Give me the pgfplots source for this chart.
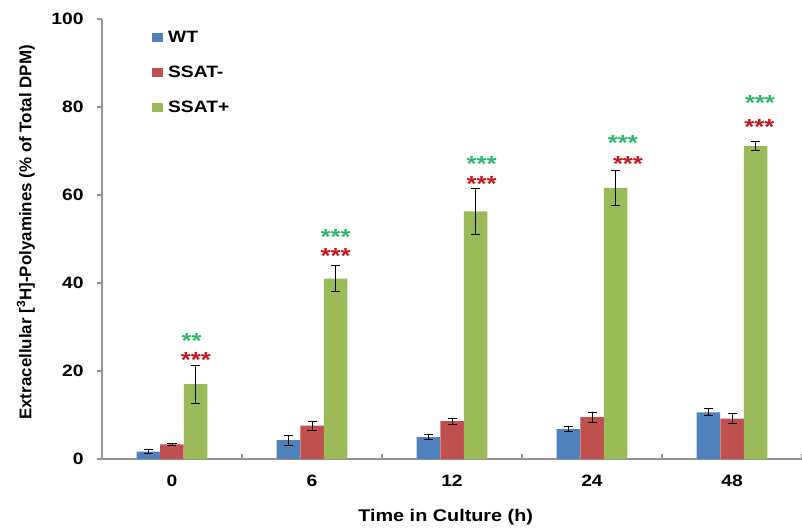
\documentclass[border=0pt]{standalone}
\usepackage{fontspec}
\setmainfont{Liberation Sans}[FakeStretch=1.17]
\newfontfamily\ylabfont{Liberation Sans}
\usepackage{pgfplots}
\pgfplotsset{compat=1.18}
\definecolor{wtblue}{HTML}{4F81BD}
\definecolor{ssred}{HTML}{C0504D}
\definecolor{ssgreen}{HTML}{9BBB59}
\definecolor{stargreen}{HTML}{2DB96B}
\definecolor{starred}{HTML}{C8161D}
\begin{document}
\begin{tikzpicture}
\begin{axis}[
  scale only axis, width=700bp, height=440bp,
  xmin=-0.5, xmax=4.5, ymin=0, ymax=100,
  axis x line*=bottom, axis y line*=left,
  x axis line style={draw=gray!85, line width=2.5bp},
  y axis line style={draw=gray!85, line width=1.3bp},
  xtick={-0.5,0.5,...,4.5}, x tick label as interval,
  xticklabels={0,6,12,24,48},
  ytick={0,20,...,100},
  tick align=outside, major tick length=5bp,
  xtick style={draw=gray!85, line width=1.5bp, yshift=5bp},
  ytick style={draw=gray!85, line width=1.2bp},
  /pgf/number format/assume math mode=true,
  tick label style={font=\bfseries\fontsize{16.5}{16.5}\selectfont},
  xticklabel style={yshift=-8bp},
  yticklabel style={xshift=-10bp},
  xlabel={Time in Culture (h)},
  ylabel={Extracellular [\textsuperscript{3}H]-Polyamines (\% of Total DPM)},
  every axis x label/.style={at={(axis description cs:0.491,-0.133)}, anchor=center,
    font=\bfseries\fontsize{17}{17}\selectfont},
  every axis y label/.style={at={(axis description cs:-0.1086,0.515)}, rotate=90, anchor=center,
    font=\ylabfont\bfseries\fontsize{17}{17}\selectfont},
  legend style={at={(axis description cs:0.0714,0.977)}, anchor=north west, draw=none, fill=none,
    font=\bfseries\fontsize{16.5}{18}\selectfont, row sep=18bp, inner sep=0pt},
  legend cell align=left,
  error bars/y dir=both, error bars/y explicit,
  error bars/error bar style={black, line width=0.8bp},
  error bars/error mark options={rotate=90, mark size=4.5bp, line width=0.8bp, black},
]
\addplot[ybar, bar width=23.5bp, bar shift=0bp, fill=wtblue, draw=none,
  legend image code/.code={\fill[wtblue] (0bp,-4.25bp) rectangle (11bp,4.25bp); \path (14bp,0bp);}]
  table[x=x, y=y, y error=e] {
x y e
-0.1679 1.7 0.5
0.8321 4.3 1.1
1.8321 5.0 0.5
2.8321 6.8 0.5
3.8321 10.6 0.8
};
\addlegendentry{WT}
\addplot[ybar, bar width=23.5bp, bar shift=0bp, fill=ssred, draw=none,
  legend image code/.code={\fill[ssred] (0bp,-4.25bp) rectangle (11bp,4.25bp); \path (14bp,0bp);}]
  table[x=x, y=y, y error=e] {
x y e
0 3.3 0.3
1 7.6 1.0
2 8.6 0.7
3 9.5 1.1
4 9.2 1.1
};
\addlegendentry{SSAT-}
\addplot[ybar, bar width=23.5bp, bar shift=0bp, fill=ssgreen, draw=none,
  legend image code/.code={\fill[ssgreen] (0bp,-4.25bp) rectangle (11bp,4.25bp); \path (14bp,0bp);}]
  table[x=x, y=y, y error=e] {
x y e
0.1679 17.0 4.3
1.1679 41.0 3.0
2.1679 56.3 5.2
3.1679 61.6 3.9
4.1679 71.1 1.0
};
\addlegendentry{SSAT+}
\addplot[only marks, mark=*, mark size=0pt, mark options={draw=none, fill=none},
  forget plot, error bars/y dir=none,
  nodes near coords, point meta=explicit symbolic,
  nodes near coords style={anchor=north, inner sep=0pt, text=stargreen,
    font=\bfseries\fontsize{22}{22}\selectfont}]
  table[x=x, y=y, meta=s] {
x y s
0.14 28.5 **
1.169 52.3 ***
2.212 68.8 ***
3.221 73.5 ***
4.2 82.6 ***
};
\addplot[only marks, mark=*, mark size=0pt, mark options={draw=none, fill=none},
  forget plot, error bars/y dir=none,
  nodes near coords, point meta=explicit symbolic,
  nodes near coords style={anchor=north, inner sep=0pt, text=starred,
    font=\bfseries\fontsize{22}{22}\selectfont}]
  table[x=x, y=y, meta=s] {
x y s
0.171 24.2 ***
1.169 48.0 ***
2.212 64.2 ***
3.257 68.8 ***
4.195 77.3 ***
};
\end{axis}
\pgfresetboundingbox
\path[use as bounding box] ([xshift=-102bp,yshift=-70bp]current axis.south west) rectangle ([yshift=19bp]current axis.north east);
\end{tikzpicture}
\end{document}
